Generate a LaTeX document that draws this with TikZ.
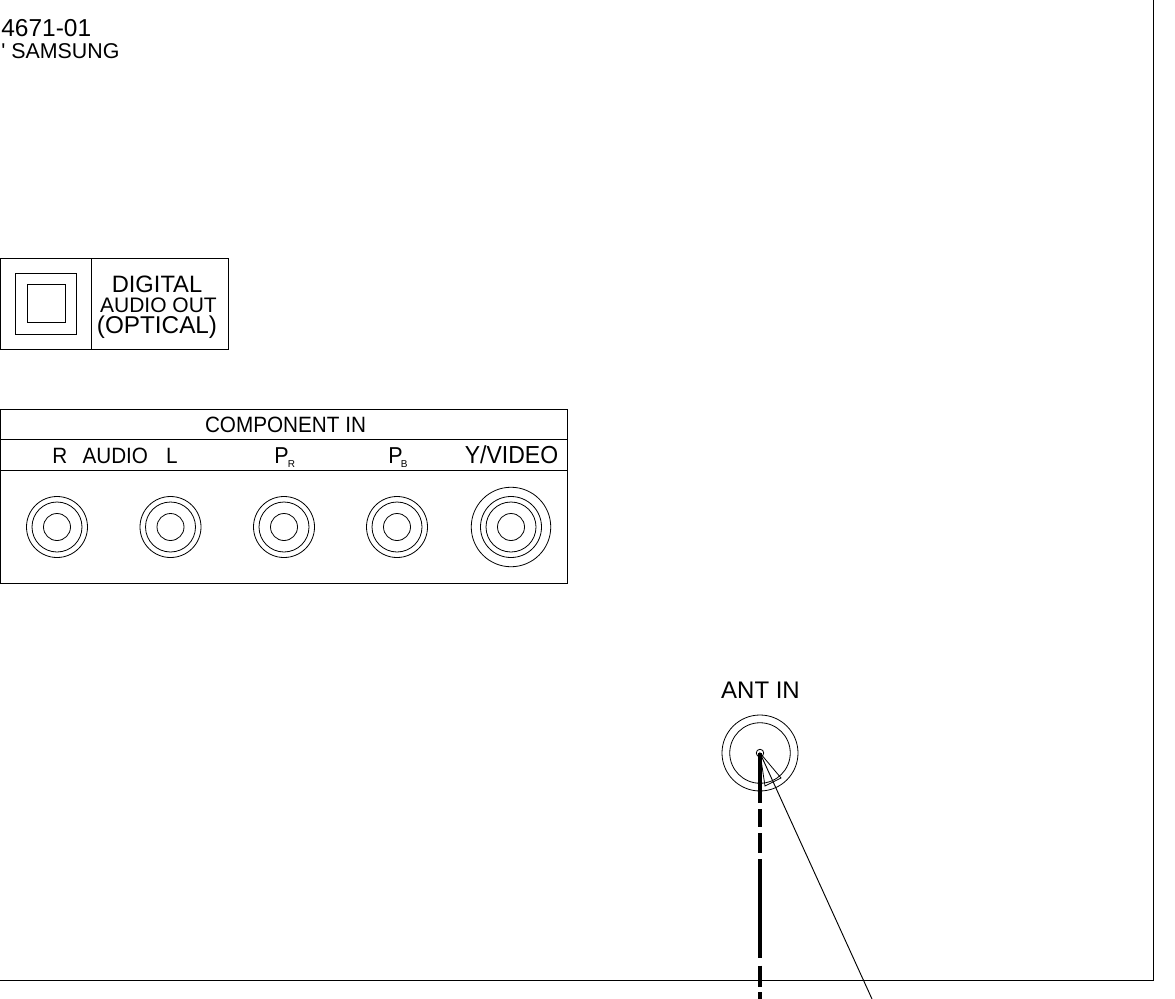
\documentclass[tikz,border=0pt]{standalone}
\usepackage{fontspec}
\setmainfont{Liberation Sans}
\newfontfamily\rawf{Liberation Sans}
\newcommand{\fpx}[1]{\fontsize{\dimexpr#1pt*3/4\relax}{\dimexpr#1pt*3/4\relax}\selectfont}
\newcommand{\tall}[1]{\scalebox{1}[1.07]{#1}}
\tikzset{
  ln/.style={draw=black,line width=0.7pt},
  lbl/.style={inner sep=0pt,anchor=base,text=black},
  lblw/.style={inner sep=0pt,anchor=base west,text=black},
  ring/.style={circle,draw=black,line width=0.6pt,inner sep=0pt,minimum size=#1*0.75pt},
  sq/.style={rectangle,draw=black,line width=0.7pt,inner sep=0pt,minimum size=#1*0.75pt},
}
\begin{document}
\begin{tikzpicture}[x=0.75pt,y=-0.75pt]
\useasboundingbox (0,0) rectangle (1175,999);
% housing
\draw[ln] (0,980) -- (1153,980) -- (1153,0);
% header text
\node[lblw] (code) at (1,37) {\fpx{24.5}4671-01};
\node[lblw] (brand) at (1,59) {\fpx{21.4}\rawf ' SAMSUNG};
% digital audio box
\draw[ln] (0.5,258.5) rectangle (228,349.5);
\draw[ln] (91,258.5) -- (91,349.5);
\node[sq=61] (optout) at (45.5,303.5) {};
\node[sq=38] (optin) at (46,303) {};
\node[lbl] (dig1) at (157,292) {\fpx{23.7}DIGITAL};
\node[lbl] (dig2) at (158.5,312) {\fpx{21}AUDIO OUT};
\node[lbl] (dig3) at (157,333) {\fpx{24.3}(OPTICAL)};
% component box
\draw[ln] (0.5,409) rectangle (567.5,583);
\draw[ln] (0.5,439.5) -- (567.5,439.5);
\draw[ln] (0.5,470) -- (567.5,470);
\node[lbl] (comp) at (285.5,432) {\fpx{20.7}\tall{COMPONENT IN}};
\node[lblw] (audio) at (52,463) {\fpx{20.7}\tall{R\hspace{11.5pt}AUDIO\hspace{13.5pt}L}};
\node[lblw] (pr) at (274,463) {\fpx{21.5}\tall{P}};
\node[lblw] (prs) at (287.5,467) {\fpx{10}R};
\node[lblw] (pb) at (388,463) {\fpx{21.5}\tall{P}};
\node[lblw] (pbs) at (400.5,467) {\fpx{10}B};
\node[lbl] (yv) at (511.5,463) {\fpx{23}\tall{Y/VIDEO}};
\foreach \n/\cx in {a/57,b/170.5,c/284,d/397}{
  \node[ring=61] (\n1) at (\cx,527) {};
  \node[ring=50] (\n2) at (\cx,527) {};
  \node[ring=27] (\n3) at (\cx,527) {};
}
\node[ring=79.5] (y0) at (511,527) {};
\node[ring=61] (y1) at (511,527) {};
\node[ring=50] (y2) at (511,527) {};
\node[ring=27] (y3) at (511,527) {};
% antenna
\node[lbl] (ant) at (760.5,698) {\fpx{24}ANT IN};
\node[ring=76] (ant1) at (760,753) {};
\node[ring=60.5] (ant2) at (760,753) {};
\node[ring=7.5] (ant3) at (760,753) {};
\coordinate (antc) at (760,753);
\coordinate (tipa) at (765,786);
\coordinate (tipb) at (781,778);
\coordinate (lead) at (872,999);
\coordinate (coax) at (760,999);
\draw[line width=0.6pt] (antc) -- (tipa) -- (tipb) -- cycle;
\draw[line width=0.7pt] (antc) -- (lead);
\draw[line width=2.35pt,dash pattern=on 37.5pt off 4.5pt on 13.5pt off 4.5pt on 15pt off 4.5pt on 74pt off 6pt on 16pt off 4pt on 10pt] (antc) -- (coax);
\end{tikzpicture}
\end{document}
